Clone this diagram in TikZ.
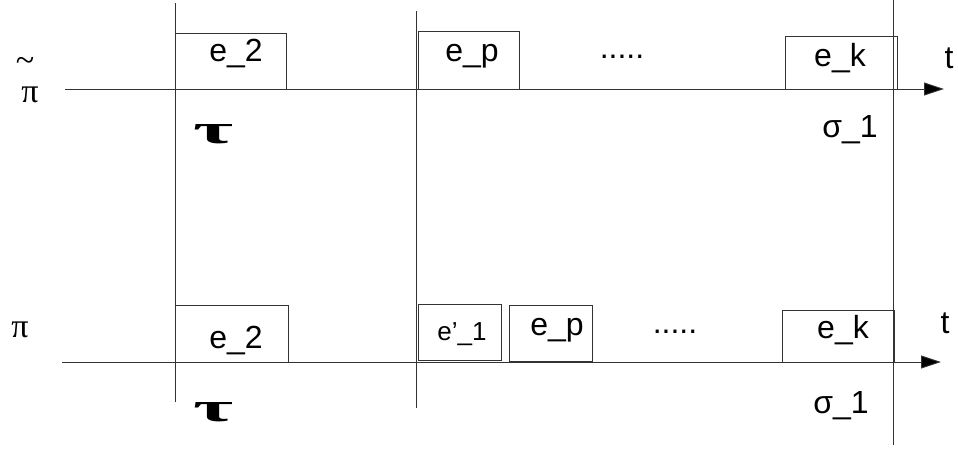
\documentclass[tikz,border=0pt]{standalone}
\usepackage{fontspec}
\setmainfont{Liberation Sans}
\newfontfamily\grserif{Liberation Serif}
\usetikzlibrary{arrows.meta}
\begin{document}
\begin{tikzpicture}[x=1pt,y=-1pt,
  ln/.style={line width=0.9pt, draw=black!80},
  axis/.style={ln, -{Triangle[length=20pt,width=13pt,fill=black]}},
  evbox/.style={draw=black!80, line width=0.9pt, rectangle, inner sep=0pt},
  lbl/.style={inner sep=0pt, anchor=base, font=\fontsize{32}{32}\selectfont},
  smlbl/.style={inner sep=0pt, anchor=base, font=\fontsize{26}{26}\selectfont},
  grk/.style={inner sep=0pt, font=\grserif\fontsize{34}{34}\selectfont},
  tau/.style={inner sep=0pt, font=\grserif\bfseries\fontsize{36}{36}\selectfont}
]
\useasboundingbox (0,0) rectangle (958,455);

% axes
\coordinate (ta0) at (65,89);  \coordinate (ta1) at (944,89);
\coordinate (ba0) at (62,362); \coordinate (ba1) at (941,362);
\draw[axis] (ta0) -- (ta1);
\draw[axis] (ba0) -- (ba1);

% vertical lines
\coordinate (v1a) at (175,3);   \coordinate (v1b) at (175,402);
\coordinate (v2a) at (416,11);  \coordinate (v2b) at (416,408);
\coordinate (v3a) at (893,0);   \coordinate (v3b) at (893,445);
\draw[ln] (v1a) -- (v1b);
\draw[ln] (v2a) -- (v2b);
\draw[ln] (v3a) -- (v3b);

% top boxes
\node[evbox, minimum width=111pt, minimum height=56pt] (e2t) at (230.5,61) {};
\node[evbox, minimum width=101pt, minimum height=58pt] (ept) at (468.5,60) {};
\node[evbox, minimum width=112pt, minimum height=53pt] (ekt) at (841,62.5) {};
% bottom boxes
\node[evbox, minimum width=113pt, minimum height=57pt] (e2b) at (231.5,333.5) {};
\node[evbox, minimum width=83pt, minimum height=56pt] (e1b) at (459.5,332) {};
\node[evbox, minimum width=83pt, minimum height=56pt] (epb) at (550.5,333) {};
\node[evbox, minimum width=112pt, minimum height=52pt] (ekb) at (838,336) {};

% top labels
\node[lbl] (le2t) at (236,61) {e\_2};
\node[lbl] (lept) at (472,61) {e\_p};
\node[lbl] (ldt) at (622,58) {.....};
\node[lbl] (lekt) at (840,66) {e\_k};
\node[lbl] (ltt) at (949,68) {t};
\node[lbl] (lst) at (850,137) {σ\_1};
\node[tau] (taut) at (213,134) {\resizebox{40pt}{19pt}{τ}};
\node[grk] (pit) at (30,95) {π};
\node[grk] (tilt) at (25,64) {\textasciitilde};

% bottom labels
\node[lbl] (le2b) at (236,348) {e\_2};
\node[smlbl] (le1b) at (462,340) {e’\_1};
\node[lbl] (lepb) at (557,335) {e\_p};
\node[lbl] (ldb) at (675,333) {.....};
\node[lbl] (lekb) at (843,338) {e\_k};
\node[lbl] (ltb) at (945,333) {t};
\node[lbl] (lsb) at (841,413) {σ\_1};
\node[tau] (taub) at (213,412) {\resizebox{40pt}{19pt}{τ}};
\node[grk] (pib) at (20,330) {π};
\end{tikzpicture}
\end{document}
